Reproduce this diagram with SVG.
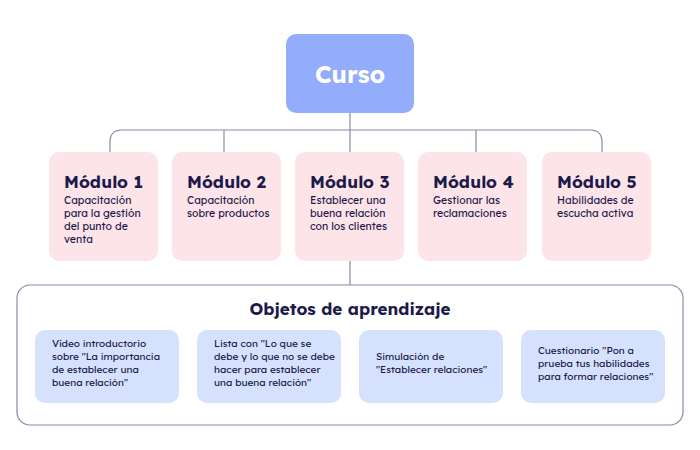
<svg xmlns="http://www.w3.org/2000/svg" width="700" height="450" viewBox="0 0 700 450">
<style>
text{font-family:"Lexend","Inter","Noto Sans",sans-serif;fill:#1c1a4a}
.m{fill:#fde4e9}
.o{fill:#d6e1fd}
.t{font-size:17px;font-weight:700}
.d{font-size:10.5px}
.s{font-size:10px}
.c{fill:none;stroke:#8a8aa5;stroke-width:1.2}
</style>
<rect width="700" height="450" fill="#fff"/>
<g id="connectors">
<path class="c" d="M350 113V130M110 152V142Q110 130 122 130H590Q602 130 602 142V152M224 130V152M350 130V152M476 130V152M350 261V285"/>
</g>
<g id="curso"><rect x="286" y="34" width="128" height="79" rx="10" fill="#94acfc"/><text x="350" y="83" text-anchor="middle" style="font-size:24px;font-weight:700;fill:#fff">Curso</text></g>
<g id="m1"><rect class="m" x="49" y="152" width="109" height="109" rx="10"/><text class="t" x="64" y="188">Módulo 1</text><text class="d" x="64" y="204">Capacitación</text><text class="d" x="64" y="217">para la gestión</text><text class="d" x="64" y="230">del punto de</text><text class="d" x="64" y="243">venta</text></g>
<g id="m2"><rect class="m" x="172" y="152" width="109" height="109" rx="10"/><text class="t" x="187" y="188">Módulo 2</text><text class="d" x="187" y="204">Capacitación</text><text class="d" x="187" y="217">sobre productos</text></g>
<g id="m3"><rect class="m" x="295" y="152" width="109" height="109" rx="10"/><text class="t" x="310" y="188">Módulo 3</text><text class="d" x="310" y="204">Establecer una</text><text class="d" x="310" y="217">buena relación</text><text class="d" x="310" y="230">con los clientes</text></g>
<g id="m4"><rect class="m" x="418" y="152" width="109" height="109" rx="10"/><text class="t" x="433" y="188">Módulo 4</text><text class="d" x="433" y="204">Gestionar las</text><text class="d" x="433" y="217">reclamaciones</text></g>
<g id="m5"><rect class="m" x="542" y="152" width="109" height="109" rx="10"/><text class="t" x="557" y="188">Módulo 5</text><text class="d" x="557" y="204">Habilidades de</text><text class="d" x="557" y="217">escucha activa</text></g>
<g id="objetos"><rect x="17" y="285" width="666" height="140" rx="13" fill="#fff" stroke="#8a8aa5" stroke-width="1.2"/><text class="t" x="350" y="315" text-anchor="middle">Objetos de aprendizaje</text></g>
<g id="o1"><rect class="o" x="35" y="330" width="144" height="73" rx="10"/><text class="s" x="52" y="347">Vídeo introductorio</text><text class="s" x="52" y="360">sobre "La importancia</text><text class="s" x="52" y="373">de establecer una</text><text class="s" x="52" y="386">buena relación"</text></g>
<g id="o2"><rect class="o" x="197" y="330" width="144" height="73" rx="10"/><text class="s" x="214" y="347">Lista con "Lo que se</text><text class="s" x="214" y="360">debe y lo que no se debe</text><text class="s" x="214" y="373">hacer para establecer</text><text class="s" x="214" y="386">una buena relación"</text></g>
<g id="o3"><rect class="o" x="359" y="330" width="144" height="73" rx="10"/><text class="s" x="376" y="360">Simulación de</text><text class="s" x="376" y="373">"Establecer relaciones"</text></g>
<g id="o4"><rect class="o" x="521" y="330" width="144" height="73" rx="10"/><text class="s" x="538" y="354">Cuestionario "Pon a</text><text class="s" x="538" y="367">prueba tus habilidades</text><text class="s" x="538" y="380">para formar relaciones"</text></g>
</svg>
